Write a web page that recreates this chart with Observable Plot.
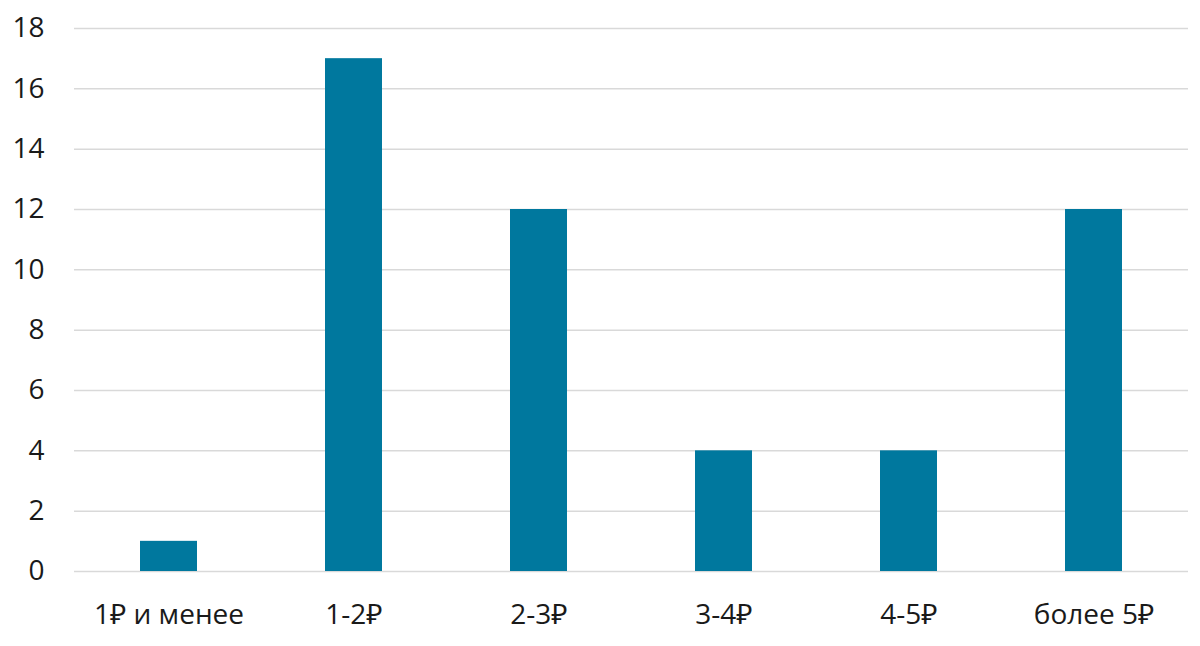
<!DOCTYPE html>
<html>
<head>
<meta charset="utf-8">
<script src="https://cdn.jsdelivr.net/npm/d3@7"></script>
<script src="https://cdn.jsdelivr.net/npm/@observablehq/plot@0.6"></script>
<style>
  html, body { margin: 0; padding: 0; background: #fff; }
  #chart svg { display: block; }
</style>
</head>
<body>
<div id="chart"></div>
<script>
const categories = ["1₽ и менее", "1-2₽", "2-3₽", "3-4₽", "4-5₽", "более 5₽"];
const counts = [1, 17, 12, 4, 4, 12];
const yTicks = [0, 2, 4, 6, 8, 10, 12, 14, 16, 18];

const data = categories.map((c, i) => ({category: c, count: counts[i]}));

const chart = Plot.plot({
  width: 1200,
  height: 646,
  marginLeft: 74,
  marginRight: 12,
  marginTop: 28,
  marginBottom: 75,
  style: {fontFamily: "'Open Sans', 'Noto Sans', sans-serif", fontSize: "28px", color: "#1a1a1a", background: "#fff"},
  x: {domain: categories, paddingInner: 0.69, paddingOuter: 0.345, label: null},
  y: {domain: [0, 18], label: null},
  marks: [
    Plot.gridY(yTicks, {stroke: "#d9d9d9", strokeOpacity: 1, strokeWidth: 1.5}),
    Plot.barY(data, {x: "category", y: "count", fill: "#00789E"}),
    Plot.axisY(yTicks, {tickSize: 0, tickPadding: 30, fontSize: 28, fill: "#1a1a1a"}),
    Plot.axisX({tickSize: 0, tickPadding: 33, fontSize: 28, fill: "#1a1a1a"})
  ]
});
document.getElementById("chart").appendChild(chart);
</script>
</body>
</html>
